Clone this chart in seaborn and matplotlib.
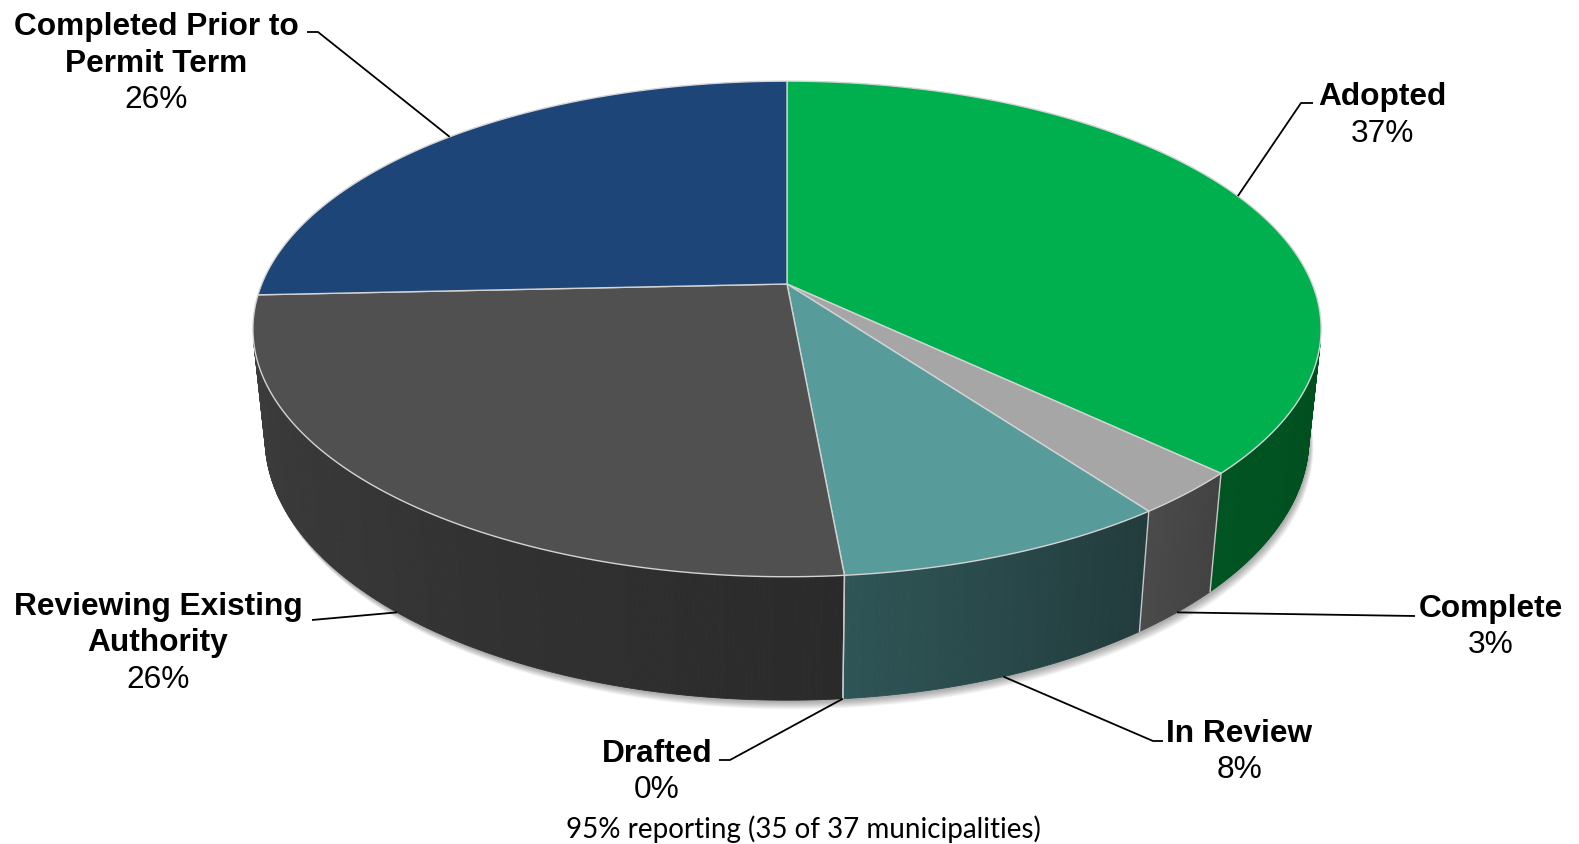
import numpy as np
import matplotlib
matplotlib.use("Agg")
import matplotlib.pyplot as plt
import seaborn as sns
from matplotlib.patches import Polygon

# data (35 of 37 municipalities reporting)
categories = ["Adopted", "Complete", "In Review", "Drafted",
              "Reviewing Existing\nAuthority", "Completed Prior to\nPermit Term"]
counts = [13, 1, 3, 0, 9, 9]
pct_labels = ["37%", "3%", "8%", "0%", "26%", "26%"]
footer = "95% reporting (35 of 37 municipalities)"

# colours: top face, side (left end), side (right end)
top_colors = ["#00B04F", "#A6A6A6", "#579B9B", "#2F5556", "#505050", "#1E4578"]
side_left = ["#005421", "#4A4A4A", "#2F5556", "#2F5556", "#3F3F3F", "#142E50"]
side_right = ["#003E14", "#424242", "#223B3C", "#223B3C", "#2A2A2A", "#0E2038"]

# label layout: text centre x, baseline of first line, leader elbow points
label_layout = [
    (1382, 105, [(1301, 104), (1313, 104)]),
    (1491, 617, [(1415, 617)]),
    (1239, 742, [(1153, 742), (1163, 742)]),
    (657, 762, [(730, 761), (719, 761)]),
    (158, 615, [(312, 621)]),
    (156, 35, [(318, 33), (307, 33)]),
]

W, H = 1579, 845
CX, CY = 787, 285
S = 519
SX = S * 1.012
E = np.radians(27.5)
D = 4.891
THICK = 0.24


def proj(theta, z=0.0):
    t = np.radians(np.asarray(theta, dtype=float))
    x, y = np.sin(t), np.cos(t)
    depth = D + y * np.cos(E) - z * np.sin(E)
    v = y * np.sin(E) + z * np.cos(E)
    return CX + SX * D * x / depth, CY - S * D * v / depth


def mix(c1, c2, f):
    a = np.array(matplotlib.colors.to_rgb(c1))
    b = np.array(matplotlib.colors.to_rgb(c2))
    return tuple(a + (b - a) * f)


sns.set_theme(style="white")
plt.rcParams["font.family"] = ["Liberation Sans", "DejaVu Sans"]

fig = plt.figure(figsize=(W / 100, H / 100), dpi=100)
ax = fig.add_axes([0, 0, 1, 1])
ax.set_xlim(0, W)
ax.set_ylim(H, 0)
ax.axis("off")

total = sum(counts)
ends = np.cumsum(counts) / total * 360
starts = np.concatenate([[0], ends[:-1]])

# soft drop shadow under the disc
ring = np.linspace(0, 360, 721)
bx, by = proj(ring, -THICK)
for i in range(10):
    ax.add_patch(Polygon(np.column_stack([bx + 1 + i * 0.4, by + 2 + i * 0.8]),
                         closed=True, facecolor="#000000", edgecolor="none",
                         alpha=0.035, zorder=1))

# side walls, only the part that faces the camera
vis_lo = np.degrees(np.arccos(-1 / (D * np.cos(E))))
vis_hi = 360 - vis_lo
strips = []
for i, (a1, a2) in enumerate(zip(starts, ends)):
    if a2 <= a1:
        continue
    lo, hi = max(a1, vis_lo), min(a2, vis_hi)
    if hi <= lo:
        continue
    n = max(2, int((hi - lo) / 0.4))
    th = np.linspace(lo, hi, n + 1)
    for t0, t1 in zip(th[:-1], th[1:]):
        f = ((t0 + t1) / 2 - a1) / (a2 - a1)
        col = mix(side_right[i], side_left[i], f)
        tx, ty = proj([t0, t1])
        ux, uy = proj([t1, t0], -THICK)
        pts = np.column_stack([np.r_[tx, ux], np.r_[ty, uy]])
        strips.append((np.cos(np.radians((t0 + t1) / 2)), pts, col))
strips.sort(key=lambda s: -s[0])
for _, pts, col in strips:
    ax.add_patch(Polygon(pts, closed=True, facecolor=col, edgecolor=col,
                         linewidth=0.6, zorder=2))

# light seams between slices on the wall
for a in ends:
    if vis_lo < a < vis_hi:
        x0, y0 = proj(a)
        x1, y1 = proj(a, -THICK)
        ax.plot([x0, x1], [y0, y1], color="#C8C8C8", lw=1.0, zorder=3)

# top faces
for i, (a1, a2) in enumerate(zip(starts, ends)):
    if a2 <= a1:
        continue
    th = np.linspace(a1, a2, max(3, int((a2 - a1) / 0.3)))
    ax_, ay_ = proj(th)
    pts = np.column_stack([np.r_[CX, ax_], np.r_[CY, ay_]])
    ax.add_patch(Polygon(pts, closed=True, facecolor=top_colors[i],
                         edgecolor="#D4D4D4", linewidth=1.0, zorder=4))

# data labels with leader lines
for i, (tx, ty, elbow) in enumerate(label_layout):
    mid = (starts[i] + ends[i]) / 2
    z = 0.0 if np.cos(np.radians(mid)) > 0 else -THICK
    px, py = proj(mid, z)
    lx = [float(px)] + [p[0] for p in elbow]
    ly = [float(py)] + [p[1] for p in elbow]
    ax.plot(lx, ly, color="black", lw=1.3, zorder=5, solid_capstyle="butt")
    lines = categories[i].split("\n")
    for k, line in enumerate(lines):
        ax.text(tx, ty + k * 36.5, line, ha="center", va="baseline",
                fontsize=22.8, fontweight="bold", color="black", zorder=6)
    ax.text(tx, ty + len(lines) * 36.5, pct_labels[i], ha="center",
            va="baseline", fontsize=22.8, color="black", zorder=6)

ax.text(803, 838, footer, ha="center", va="baseline", fontsize=20,
        family=["Lato", "DejaVu Sans"], color="black", zorder=6)

fig.savefig("out.png", dpi=100, facecolor="white")
